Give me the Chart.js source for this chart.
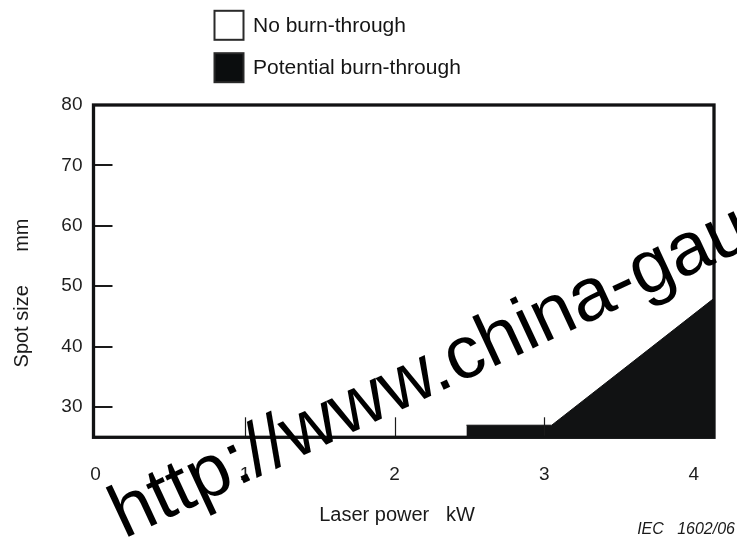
<!DOCTYPE html>
<html>
<head>
<meta charset="utf-8">
<script src="https://cdn.jsdelivr.net/npm/chart.js@4/dist/chart.umd.min.js"></script>
<style>
  html, body { margin: 0; padding: 0; background: #ffffff; }
  #wrap { position: relative; width: 737px; height: 546px; }
</style>
</head>
<body>
<div id="wrap"><canvas id="c"></canvas></div>
<script>
// ---- data ----
const legendLabels = ['No burn-through', 'Potential burn-through'];
const boundaryPower = [2.48, 3.05, 4.135];   // kW
const boundarySpot  = [27, 27, 48];          // mm
const floorSpot = 25;
const xTickValues = [0, 1, 2, 3, 4];
const yTickValues = [30, 40, 50, 60, 70, 80];
const xTitle = 'Laser power   kW';
const yTitle = 'Spot size      mm';
const sourceNote = 'IEC   1602/06';
const watermark = 'http://www.china-gau';

const FONT = '"Liberation Sans", Arial, Helvetica, sans-serif';
const INK = '#111213';

const regionPoints = boundaryPower.map((x, i) => ({ x: x, y: boundarySpot[i] }));

const decor = {
  id: 'decor',
  afterDatasetsDraw(chart) {
    const ctx = chart.ctx;
    const a = chart.chartArea;
    const xs = chart.scales.x, ys = chart.scales.y;
    ctx.save();
    // inward y ticks
    ctx.strokeStyle = '#1a1a1a';
    ctx.lineWidth = 2;
    yTickValues.slice(0, -1).forEach(v => {
      const py = Math.round(ys.getPixelForValue(v));
      ctx.beginPath();
      ctx.moveTo(a.left, py);
      ctx.lineTo(a.left + 19, py);
      ctx.stroke();
    });
    // inward x ticks
    ctx.lineWidth = 1.2;
    xTickValues.slice(1, -1).forEach(v => {
      const px = Math.round(xs.getPixelForValue(v)) + 0.5;
      ctx.beginPath();
      ctx.moveTo(px, a.bottom);
      ctx.lineTo(px, a.bottom - 20);
      ctx.stroke();
    });
    // frame
    ctx.strokeStyle = INK;
    ctx.lineWidth = 3.3;
    ctx.strokeRect(a.left, a.top, a.right - a.left, a.bottom - a.top);
    ctx.restore();
  },
  afterDraw(chart) {
    const ctx = chart.ctx;
    ctx.save();
    // legend
    const ds = chart.data.datasets;
    const rows = [25.3, 67.7];
    ds.forEach((d, i) => {
      const cy = rows[i];
      ctx.fillStyle = d.legendFill;
      ctx.fillRect(214.5, cy - 14.5, 29, 29);
      ctx.strokeStyle = '#2a2a2a';
      ctx.lineWidth = 2;
      ctx.strokeRect(214.5, cy - 14.5, 29, 29);
      ctx.fillStyle = '#141414';
      ctx.font = '21px ' + FONT;
      ctx.textAlign = 'left';
      ctx.textBaseline = 'middle';
      ctx.fillText(d.label, 253, cy + 1);
    });
    // axis titles
    ctx.fillStyle = '#1a1a1a';
    ctx.font = '20px ' + FONT;
    ctx.textAlign = 'center';
    ctx.textBaseline = 'alphabetic';
    ctx.fillText(xTitle, 397, 521);
    ctx.save();
    ctx.translate(28, 293);
    ctx.rotate(-Math.PI / 2);
    ctx.fillText(yTitle, 0, 0);
    ctx.restore();
    // source note
    ctx.font = 'italic 16px ' + FONT;
    ctx.textAlign = 'right';
    ctx.fillStyle = '#1a1a1a';
    ctx.fillText(sourceNote, 735, 534);
    // watermark
    ctx.save();
    ctx.translate(124, 539);
    ctx.rotate(-25 * Math.PI / 180);
    ctx.font = '75px ' + FONT;
    ctx.textAlign = 'left';
    ctx.textBaseline = 'alphabetic';
    ctx.fillStyle = '#000000';
    ctx.fillText(watermark, 0, 0);
    ctx.restore();
    ctx.restore();
  }
};

new Chart(document.getElementById('c'), {
  type: 'scatter',
  data: {
    datasets: [
      {
        label: legendLabels[0],
        data: [],
        legendFill: '#ffffff',
        showLine: false
      },
      {
        label: legendLabels[1],
        data: regionPoints,
        legendFill: '#0b0d0e',
        showLine: true,
        borderColor: INK,
        borderWidth: 1,
        backgroundColor: INK,
        fill: { value: floorSpot },
        pointRadius: 0,
        tension: 0
      }
    ]
  },
  options: {
    responsive: true,
    maintainAspectRatio: false,
    animation: false,
    layout: { padding: { top: 105, right: 23, left: 0, bottom: 0 } },
    plugins: { legend: { display: false }, tooltip: { enabled: false } },
    scales: {
      x: {
        type: 'linear',
        min: -0.013,
        max: 4.135,
        afterBuildTicks: s => { s.ticks = xTickValues.map(v => ({ value: v })); },
        afterFit: s => { s.height = 108.7; },
        grid: { display: false, drawTicks: false },
        border: { display: false },
        ticks: {
          color: '#1e1e1e',
          font: { family: FONT, size: 19 },
          padding: 26,
          maxRotation: 0,
          autoSkip: false
        }
      },
      y: {
        type: 'linear',
        min: floorSpot,
        max: 80,
        afterBuildTicks: s => { s.ticks = yTickValues.map(v => ({ value: v })); },
        afterFit: s => { s.width = 93.5; },
        grid: { display: false, drawTicks: false },
        border: { display: false },
        ticks: {
          color: '#1e1e1e',
          font: { family: FONT, size: 19 },
          padding: 11
        }
      }
    }
  },
  plugins: [decor]
});
</script>
</body>
</html>
